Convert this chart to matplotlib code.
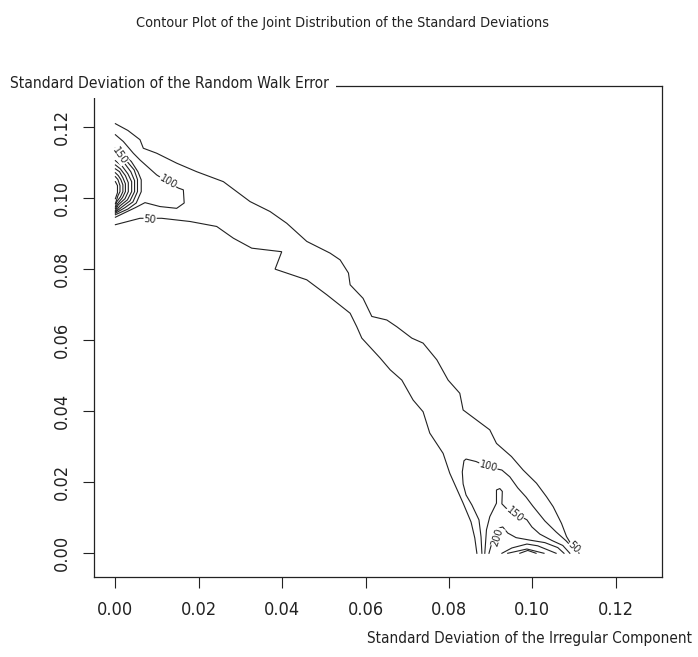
import matplotlib.pyplot as plt

plt.rcParams['font.family'] = ['DejaVu Sans']
plt.rcParams['font.stretch'] = 'condensed'

# axis ticks
ticks = [0.00, 0.02, 0.04, 0.06, 0.08, 0.10, 0.12]
tick_labels = ['0.00', '0.02', '0.04', '0.06', '0.08', '0.10', '0.12']

# contour paths (x = sd irregular, y = sd random walk)
# level 50, upper edge of the ridge
c50_up_x = [0.0, 0.0030, 0.0059, 0.0067, 0.0099, 0.0147, 0.0195, 0.0259, 0.0291, 0.0323,
            0.0371, 0.0411, 0.0459, 0.0515, 0.0539, 0.0559, 0.0563, 0.0594, 0.0615, 0.0651,
            0.0675, 0.0711, 0.0738, 0.0771, 0.0798, 0.0826, 0.0834, 0.0866, 0.0898, 0.0914,
            0.0950, 0.0978, 0.1010, 0.1034, 0.1050, 0.1070, 0.1082, 0.1097, 0.1109, 0.1112]
c50_up_y = [0.1208, 0.1189, 0.1163, 0.1139, 0.1125, 0.1097, 0.1073, 0.1045, 0.1017, 0.0989,
            0.0961, 0.0928, 0.0877, 0.0844, 0.0825, 0.0788, 0.0755, 0.0717, 0.0666, 0.0656,
            0.0637, 0.0605, 0.0591, 0.0544, 0.0487, 0.0450, 0.0403, 0.0375, 0.0347, 0.0309,
            0.0272, 0.0234, 0.0197, 0.0159, 0.0131, 0.0084, 0.0047, 0.0018, 0.0006, 0.0]
# level 50, lower edge of the ridge
c50_lo_x = [0.0, 0.0059, 0.0111, 0.0179, 0.0243, 0.0283, 0.0327, 0.0399, 0.0383, 0.0459,
            0.0507, 0.0563, 0.0579, 0.0591, 0.0635, 0.0659, 0.0687, 0.0714, 0.0738, 0.0754,
            0.0786, 0.0802, 0.0834, 0.0853, 0.0862, 0.0867]
c50_lo_y = [0.0924, 0.0942, 0.0942, 0.0933, 0.0919, 0.0886, 0.0858, 0.0848, 0.0799, 0.0769,
            0.0727, 0.0675, 0.0637, 0.0605, 0.0549, 0.0516, 0.0487, 0.0431, 0.0398, 0.0338,
            0.0281, 0.0225, 0.0141, 0.0088, 0.0043, 0.0]

# peak at the left edge
c100_l_x = [0.0, 0.0019, 0.0043, 0.0059, 0.0099, 0.0126, 0.0151, 0.0163, 0.0165, 0.0147,
            0.0107, 0.0071, 0.0048, 0.0023, 0.0]
c100_l_y = [0.1177, 0.1158, 0.1125, 0.1106, 0.1064, 0.1044, 0.1027, 0.1022, 0.0985, 0.0970,
            0.0975, 0.0986, 0.0972, 0.0958, 0.0945]
c150_l_x = [0.0, 0.0038, 0.0054, 0.0062, 0.0062, 0.0050, 0.0030, 0.0]
c150_l_y = [0.1140, 0.1102, 0.1073, 0.1050, 0.1017, 0.0985, 0.0968, 0.0952]
c200_l_x = [0.0, 0.0025, 0.0045, 0.0053, 0.0053, 0.0042, 0.0023, 0.0]
c200_l_y = [0.1126, 0.1106, 0.1078, 0.1051, 0.1017, 0.0988, 0.0972, 0.0956]
c250_l_x = [0.0, 0.0021, 0.0037, 0.0046, 0.0046, 0.0035, 0.0016, 0.0]
c250_l_y = [0.1115, 0.1098, 0.1073, 0.1048, 0.1017, 0.0991, 0.0974, 0.0959]
c300_l_x = [0.0, 0.0016, 0.0030, 0.0039, 0.0039, 0.0029, 0.0011, 0.0]
c300_l_y = [0.1104, 0.1089, 0.1067, 0.1045, 0.1017, 0.0994, 0.0977, 0.0961]
c350_l_x = [0.0, 0.0012, 0.0024, 0.0031, 0.0031, 0.0023, 0.0007, 0.0]
c350_l_y = [0.1092, 0.1081, 0.1062, 0.1042, 0.1017, 0.0997, 0.0980, 0.0964]
c400_l_x = [0.0, 0.0010, 0.0018, 0.0024, 0.0024, 0.0017, 0.0005, 0.0]
c400_l_y = [0.1081, 0.1073, 0.1056, 0.1039, 0.1017, 0.1000, 0.0983, 0.0969]
c450_l_x = [0.0, 0.0007, 0.0013, 0.0018, 0.0018, 0.0012, 0.0003, 0.0]
c450_l_y = [0.1070, 0.1062, 0.1051, 0.1036, 0.1017, 0.1002, 0.0988, 0.0974]
c500_l_x = [0.0, 0.0006, 0.0011, 0.0011, 0.0006, 0.0]
c500_l_y = [0.1059, 0.1051, 0.1034, 0.1017, 0.1005, 0.0983]
c550_l_x = [0.0, 0.0005, 0.0005, 0.0]
c550_l_y = [0.1045, 0.1034, 0.1014, 0.0997]

# peak at the bottom edge
c100_r_x = [0.0879, 0.0877, 0.0872, 0.0855, 0.0841, 0.0834, 0.0832, 0.0836, 0.0841, 0.0865,
            0.0894, 0.0927, 0.0946, 0.0965, 0.0985, 0.1001, 0.1030, 0.1057, 0.1081, 0.1097, 0.1105]
c100_r_y = [0.0, 0.0046, 0.0094, 0.0136, 0.0164, 0.0195, 0.0229, 0.0260, 0.0265, 0.0258,
            0.0243, 0.0234, 0.0215, 0.0184, 0.0158, 0.0133, 0.0091, 0.0060, 0.0035, 0.0015, 0.0]
c150_r_x = [0.0886, 0.0890, 0.0898, 0.0914, 0.0914, 0.0922, 0.0928, 0.0927, 0.0937, 0.0958,
            0.0987, 0.0999, 0.1018, 0.1047, 0.1073, 0.1090]
c150_r_y = [0.0, 0.0066, 0.0103, 0.0141, 0.0178, 0.0182, 0.0174, 0.0139, 0.0127, 0.0113,
            0.0094, 0.0074, 0.0054, 0.0036, 0.0022, 0.0]
c200_r_x = [0.0896, 0.0901, 0.0908, 0.0920, 0.0929, 0.0941, 0.0961, 0.0994, 0.1030, 0.1061, 0.1076]
c200_r_y = [0.0, 0.0021, 0.0046, 0.0071, 0.0074, 0.0057, 0.0044, 0.0037, 0.0030, 0.0016, 0.0]
c250_r_x = [0.0927, 0.0951, 0.0987, 0.1013, 0.1057]
c250_r_y = [0.0, 0.0015, 0.0026, 0.0021, 0.0]
c300_r_x = [0.0941, 0.0987, 0.1028]
c300_r_y = [0.0, 0.0012, 0.0]
c350_r_x = [0.0970, 0.0989, 0.1009]
c350_r_y = [0.0, 0.0008, 0.0]

# contour labels: text, x, y, rotation
lab_text = ['50', '100', '150', '100', '150', '200', '50']
lab_x = [0.0083, 0.0126, 0.0011, 0.0894, 0.0958, 0.0917, 0.1100]
lab_y = [0.0938, 0.1044, 0.1118, 0.0243, 0.0110, 0.0045, 0.0016]
lab_rot = [-5, -30, -55, -15, -40, 72, -45]

paths = [(c50_up_x, c50_up_y), (c50_lo_x, c50_lo_y),
         (c100_l_x, c100_l_y), (c150_l_x, c150_l_y), (c200_l_x, c200_l_y),
         (c250_l_x, c250_l_y), (c300_l_x, c300_l_y), (c350_l_x, c350_l_y),
         (c400_l_x, c400_l_y), (c450_l_x, c450_l_y), (c500_l_x, c500_l_y),
         (c550_l_x, c550_l_y),
         (c100_r_x, c100_r_y), (c150_r_x, c150_r_y), (c200_r_x, c200_r_y),
         (c250_r_x, c250_r_y), (c300_r_x, c300_r_y), (c350_r_x, c350_r_y)]

W, H = 698, 657
fig = plt.figure(figsize=(W / 100, H / 100), dpi=100)
ax = fig.add_axes([94 / W, 1 - 577 / H, (662 - 94) / W, (577 - 86) / H])

for xs, ys in paths:
    ax.plot(xs, ys, color='#222222', lw=0.8, solid_joinstyle='miter')

for s, x, y, r in zip(lab_text, lab_x, lab_y, lab_rot):
    ax.text(x, y, s, rotation=r, ha='center', va='center', fontsize=7,
            fontstretch='normal', color='#222222',
            bbox=dict(facecolor='white', edgecolor='none', pad=0.3), zorder=3)

ax.set_xlim(-0.00513, 0.1311)
ax.set_ylim(-0.00667, 0.1314)
ax.set_xticks(ticks)
ax.set_xticklabels(tick_labels)
ax.set_yticks(ticks)
ax.set_yticklabels(tick_labels, rotation=90, va='center')
ax.tick_params(direction='out', length=8, width=0.8, labelsize=13, pad=9, colors='#222222')
for sp in ax.spines.values():
    sp.set_linewidth(0.9)
    sp.set_color('#222222')

fig.text(0.49, 0.965, 'Contour Plot of the Joint Distribution of the Standard Deviations',
         ha='center', va='center', fontsize=10.4, color='#222222')
fig.text(10 / W, 1 - 83 / H, 'Standard Deviation of the Random Walk Error',
         ha='left', va='center', fontsize=11.2, color='#222222', zorder=5,
         bbox=dict(facecolor='white', edgecolor='none', pad=5))
fig.text(692 / W, 1 - 638 / H, 'Standard Deviation of the Irregular Component',
         ha='right', va='center', fontsize=11.0, color='#222222')

fig.savefig('out.png', dpi=100, facecolor='white')
